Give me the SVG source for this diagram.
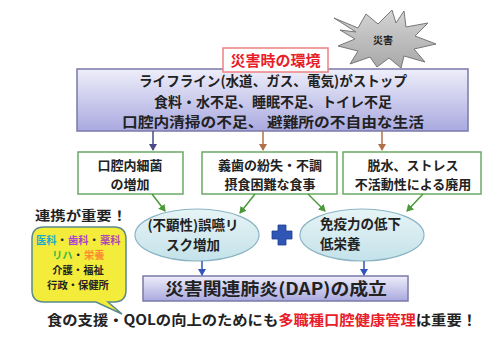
<svg xmlns="http://www.w3.org/2000/svg" width="494" height="338" viewBox="0 0 494 338">
<defs>
<linearGradient id="gMain" x1="0" y1="0" x2="0" y2="1">
<stop offset="0" stop-color="#eeeefa"/><stop offset="1" stop-color="#a9a9e0"/>
</linearGradient>
<linearGradient id="gStar" x1="0" y1="0" x2="0" y2="1">
<stop offset="0" stop-color="#d4d4d4"/><stop offset="1" stop-color="#a8a8a8"/>
</linearGradient>
<linearGradient id="gEll" x1="0" y1="0" x2="0" y2="1">
<stop offset="0" stop-color="#e6f4f6"/><stop offset="1" stop-color="#c4e2ea"/>
</linearGradient>
<marker id="mG" markerWidth="8" markerHeight="8" refX="6" refY="4" orient="auto" markerUnits="userSpaceOnUse">
<path d="M0,0 L7,4 L0,8 z" fill="#4a9a3a"/></marker>
<marker id="mB" markerWidth="8" markerHeight="8" refX="6" refY="4" orient="auto" markerUnits="userSpaceOnUse">
<path d="M0,0 L7,4 L0,8 z" fill="#3355bb"/></marker>
<marker id="mR" markerWidth="8" markerHeight="8" refX="6" refY="4" orient="auto" markerUnits="userSpaceOnUse">
<path d="M0,0 L7,4 L0,8 z" fill="#b07048"/></marker>
<marker id="mP" markerWidth="8" markerHeight="8" refX="6" refY="4" orient="auto" markerUnits="userSpaceOnUse">
<path d="M0,0 L7,4 L0,8 z" fill="#4a4a8a"/></marker>
</defs>
<style>
text{font-family:"Noto Sans CJK JP","Noto Sans",sans-serif;font-weight:bold;fill:#222;}
.gbox{fill:#fff;stroke:#6aaa64;stroke-width:1.5;}
.ell{fill:url(#gEll);stroke:#8ab4c4;stroke-width:1.2;}
.m{font-size:14px;text-anchor:middle;}
.e{font-size:13.5px;text-anchor:middle;}
.s{font-size:13px;text-anchor:middle;}
.c{font-size:10.3px;}
.cm{font-size:10.3px;text-anchor:middle;}
.ga{stroke:#4a9a3a;stroke-width:1.5;fill:none;marker-end:url(#mG);}
.ba{stroke:#3355bb;stroke-width:1.5;fill:none;marker-end:url(#mB);}
.ra{stroke:#b07048;stroke-width:1.5;fill:none;marker-end:url(#mR);}
.pa{stroke:#4a4a8a;stroke-width:1.5;fill:none;marker-end:url(#mP);}
</style>
<rect width="494" height="338" fill="#fff"/>

<g id="star">
<polygon points="334,18 358,28 366,14 378,24 392,10 396,23 404,11 406,27 428,23 415,36 436,44 414,49 425,62 404,56 401,68 389,58 377,67 370,57 350,64 358,51 338,46 355,39 340,30 356,32" fill="url(#gStar)" stroke="#777" stroke-width="1"/>
<text x="383" y="44" style="font-size:10px;text-anchor:middle;">災害</text>
</g>

<g id="main">
<rect x="77" y="69" width="391" height="62" fill="url(#gMain)" stroke="#7a7aa8" stroke-width="1.5"/>
<text class="m" x="273" y="86" textLength="268" lengthAdjust="spacingAndGlyphs">ライフライン(水道、ガス、電気)がストップ</text>
<text class="m" x="273" y="106.5">食料・水不足、睡眠不足、トイレ不足</text>
<text class="m" x="273" y="127" textLength="302" lengthAdjust="spacingAndGlyphs">口腔内清掃の不足、 避難所の不自由な生活</text>
</g>

<g id="title">
<rect x="223" y="48" width="105" height="24" fill="#fff" stroke="#f08080" stroke-width="1.5"/>
<text x="275.5" y="66" style="font-size:15px;text-anchor:middle;fill:#e8202a;">災害時の環境</text>
</g>

<g id="box1">
<rect class="gbox" x="78" y="152" width="105" height="42"/>
<text class="s" x="130" y="170">口腔内細菌</text>
<text class="s" x="130" y="189">の増加</text>
</g>
<g id="box2">
<rect class="gbox" x="202" y="152" width="135" height="42"/>
<text class="s" x="270" y="170">義歯の紛失・不調</text>
<text class="s" x="270" y="189">摂食困難な食事</text>
</g>
<g id="box3">
<rect class="gbox" x="343" y="152" width="138" height="42"/>
<text class="s" x="413" y="170">脱水、ストレス</text>
<text class="s" x="413" y="189">不活動性による廃用</text>
</g>

<g id="ell1">
<ellipse class="ell" cx="197" cy="235" rx="62" ry="26"/>
<text class="e" x="193" y="230">(不顕性)誤嚥リ</text>
<text class="e" x="193" y="250">スク増加</text>
</g>
<g id="ell2">
<ellipse class="ell" cx="362" cy="235" rx="62" ry="26"/>
<text x="320" y="229" style="font-size:13.5px;">免疫力の低下</text>
<text x="320" y="249" style="font-size:13.5px;">低栄養</text>
</g>

<g id="plus">
<path d="M278,225 h8 v6 h6 v8 h-6 v6 h-8 v-6 h-6 v-8 h6 z" fill="#2f55b5" stroke="#203f90" stroke-width="0.8"/>
</g>

<g id="dap">
<rect x="143" y="276" width="265" height="25" fill="url(#gMain)" stroke="#7a7aa8" stroke-width="1.5"/>
<text x="276" y="295" style="font-size:17px;text-anchor:middle;" textLength="222" lengthAdjust="spacingAndGlyphs">災害関連肺炎(DAP)の成立</text>
</g>

<g id="renkei">
<text x="35" y="220" style="font-size:13px;" textLength="92" lengthAdjust="spacingAndGlyphs">連携が重要！</text>
</g>

<g id="callout">
<path d="M44,227 H114 Q126,227 126,239 V290 Q126,302 114,302 H108 L122,314 L96,302 H44 Q32,302 32,290 V239 Q32,227 44,227 Z" fill="#f3ec3a" stroke="#5a8a8a" stroke-width="1.5"/>
<text class="c" x="36" y="244" style="fill:#22aacc">医科</text>
<text class="c" x="57" y="244">・</text>
<text class="c" x="68" y="244" style="fill:#aa44cc">歯科</text>
<text class="c" x="89" y="244">・</text>
<text class="c" x="100" y="244" style="fill:#b04ab0">薬科</text>
<text class="c" x="52" y="259" style="fill:#33bb44">リハ</text>
<text class="c" x="73" y="259">・</text>
<text class="c" x="84" y="259" style="fill:#ff8833">栄養</text>
<text class="cm" x="78" y="274">介護・福祉</text>
<text class="cm" x="78" y="289">行政・保健所</text>
</g>

<g id="bottom">
<text x="47" y="325" style="font-size:14px;" textLength="430" lengthAdjust="spacingAndGlyphs">食の支援・QOLの向上のためにも<tspan style="fill:#e8202a">多職種口腔健康管理</tspan>は重要！</text>
</g>

<g id="connectors">
<line class="pa" x1="153" y1="131" x2="153" y2="150"/>
<line class="ra" x1="263" y1="131" x2="263" y2="150"/>
<line class="ra" x1="382" y1="131" x2="382" y2="150"/>
<line class="ga" x1="152" y1="194" x2="165" y2="211"/>
<line class="ga" x1="255" y1="194" x2="240" y2="213"/>
<line class="ga" x1="308" y1="194" x2="325" y2="211"/>
<line class="ga" x1="423" y1="194" x2="407" y2="211"/>
<line class="ba" x1="202" y1="261" x2="202" y2="275"/>
<line class="ba" x1="364" y1="261" x2="364" y2="275"/>
</g>
</svg>
